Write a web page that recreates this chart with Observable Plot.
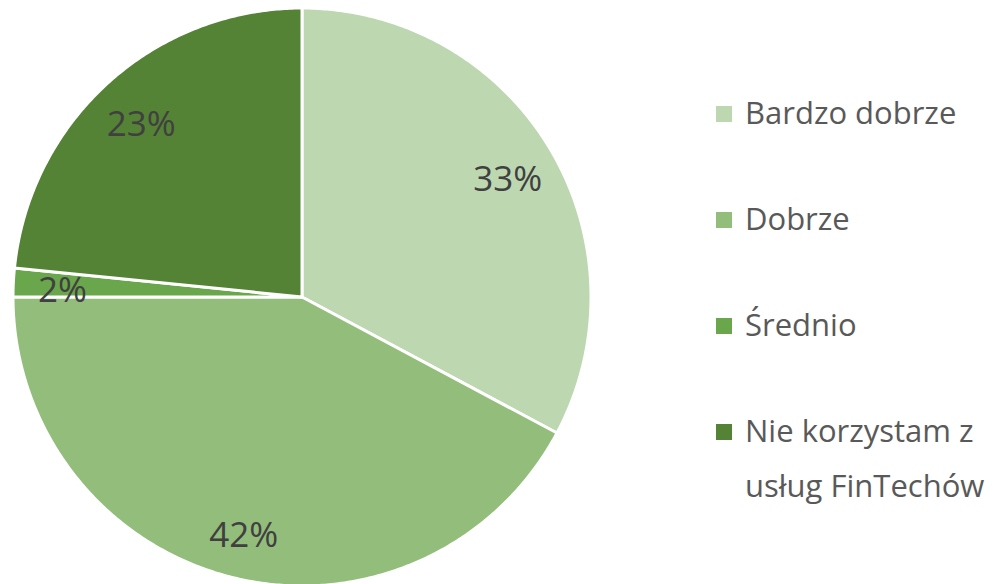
<!DOCTYPE html>
<html>
<head>
<meta charset="utf-8">
<script src="https://cdn.jsdelivr.net/npm/d3@7"></script>
<script src="https://cdn.jsdelivr.net/npm/@observablehq/plot@0.6"></script>
<style>
  html, body { margin: 0; padding: 0; background: #fff; }
  #wrap { position: relative; width: 1003px; height: 584px; overflow: hidden; font-family: "Open Sans", Lato, sans-serif; }
  #chart svg { display: block; }
  .leg { position: absolute; left: 716px; display: flex; align-items: flex-start; color: #595959; font-size: 31px; line-height: 55px; }
  .sw { width: 16px; height: 16px; margin-top: 21px; margin-right: 13px; flex: none; }
</style>
</head>
<body>
<div id="wrap"><div id="chart"></div><div id="legend"></div></div>
<script>
const categories = ["Bardzo dobrze", "Dobrze", "Średnio", "Nie korzystam z usług FinTechów"];
const legendLines = [["Bardzo dobrze"], ["Dobrze"], ["Średnio"], ["Nie korzystam z", "usług FinTechów"]];
const values = [32.8, 42.2, 1.6, 23.4];
const labels = ["33%", "42%", "2%", "23%"];
const colors = ["#BDD7B1", "#93BD7B", "#6AA64B", "#558335"];

const W = 1003, H = 584;
const cx = 301.5, cy = 296.5, R = 289;

const arcs = d3.pie().sort(null).value(d => d)(values);
const poly = [];
arcs.forEach((a, i) => {
  const cat = categories[i];
  poly.push({cat, x: 0, y: 0});
  const n = Math.max(2, Math.ceil((a.endAngle - a.startAngle) / (Math.PI / 360)));
  for (let k = 0; k <= n; k++) {
    const t = a.startAngle + (a.endAngle - a.startAngle) * k / n;
    poly.push({cat, x: Math.sin(t), y: Math.cos(t)});
  }
});
const lf = 0.83;
const labelData = arcs.map((a, i) => {
  const m = (a.startAngle + a.endAngle) / 2;
  return {label: labels[i], x: lf * Math.sin(m), y: lf * Math.cos(m)};
});

const chart = Plot.plot({
  width: W, height: H,
  margin: 0,
  x: {domain: [-cx / R, (W - cx) / R], axis: null},
  y: {domain: [-(H - cy) / R, cy / R], axis: null},
  color: {domain: categories, range: colors},
  marks: [
    Plot.line(poly, {x: "x", y: "y", z: "cat", fill: "cat", stroke: "#fff", strokeWidth: 3, curve: "linear-closed"}),
    Plot.text(labelData, {x: "x", y: "y", dy: 6, text: "label", fill: "#404040", fontSize: 35, fontFamily: "'Open Sans', sans-serif"})
  ]
});
document.getElementById("chart").appendChild(chart);

const tops = [85, 191, 297, 403];
const leg = document.getElementById("legend");
categories.forEach((c, i) => {
  const d = document.createElement("div");
  d.className = "leg";
  d.style.top = tops[i] + "px";
  const sw = document.createElement("div");
  sw.className = "sw";
  sw.style.background = colors[i];
  const tx = document.createElement("div");
  tx.innerHTML = legendLines[i].join("<br>");
  d.appendChild(sw); d.appendChild(tx);
  leg.appendChild(d);
});
</script>
</body>
</html>
